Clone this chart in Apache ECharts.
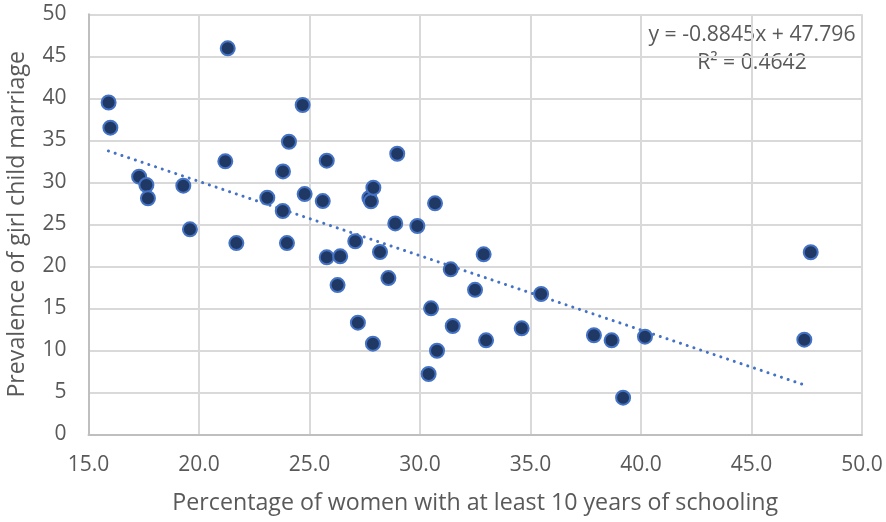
<!DOCTYPE html>
<html>
<head>
<meta charset="utf-8">
<script src="https://cdn.jsdelivr.net/npm/echarts@6/dist/echarts.min.js"></script>
<style>
html,body{margin:0;padding:0;background:#fff;}
#chart{width:886px;height:522px;}
</style>
</head>
<body>
<div id="chart"></div>
<script>
// Data
const schooling = [15.91,15.99,17.29,17.62,17.69,19.29,19.59,21.19,21.30,21.69,
  23.09,23.79,23.80,23.98,24.07,24.69,24.78,25.60,25.78,25.78,
  26.27,26.39,27.07,27.19,27.71,27.78,27.87,27.89,28.19,28.57,
  28.88,28.97,29.88,30.39,30.50,30.68,30.77,31.39,31.48,32.49,
  32.88,32.99,34.60,35.48,37.87,38.67,39.19,40.18,47.39,47.68];
const marriage = [39.5,36.5,30.67,29.68,28.1,29.6,24.4,32.5,45.95,22.77,
  28.17,26.58,31.3,22.77,34.83,39.2,28.6,27.77,32.57,21.07,
  17.77,21.19,22.98,13.29,28.13,27.74,10.79,29.36,21.7,18.6,
  25.1,33.4,24.8,7.18,15.0,27.5,9.95,19.64,12.89,17.2,
  21.43,11.19,12.62,16.7,11.79,11.19,4.36,11.62,11.26,21.67];
const trendSlope = -0.8845;
const trendIntercept = 47.796;
const trendRange = [15.9, 47.5];
const equationText = 'y = -0.8845x + 47.796';
const r2Text = 'R\u00B2 = 0.4642';
const xTicks = [15,20,25,30,35,40,45,50];
const yTicks = [0,5,10,15,20,25,30,35,40,45,50];

const points = schooling.map((x,i)=>[x, marriage[i]]);
const trend = trendRange.map(x=>[x, trendSlope*x + trendIntercept]);

const FONT = '"Open Sans", sans-serif';
const TXT = '#595959';
const chart = echarts.init(document.getElementById('chart'));
chart.setOption({
  animation:false,
  backgroundColor:'#fff',
  grid:{left:88.5, right:24, top:14.3, bottom:87.7, containLabel:false, outerBoundsMode:'none'},
  xAxis:{
    type:'value', min:xTicks[0], max:xTicks[xTicks.length-1], interval:5,
    axisLine:{show:true, lineStyle:{color:'#BFBFBF', width:2}},
    axisTick:{show:false},
    splitLine:{show:true, lineStyle:{color:'#D9D9D9', width:2}},
    axisLabel:{color:TXT, fontSize:21, fontFamily:FONT, margin:20,
      formatter:v=>v.toFixed(1)},
    name:'Percentage of women with at least 10 years of schooling',
    nameLocation:'middle', nameGap:58,
    nameTextStyle:{color:TXT, fontSize:23.2, fontFamily:FONT}
  },
  yAxis:{
    type:'value', min:yTicks[0], max:yTicks[yTicks.length-1], interval:5,
    axisLine:{show:true, lineStyle:{color:'#BFBFBF', width:2}},
    axisTick:{show:false},
    splitLine:{show:true, lineStyle:{color:'#D9D9D9', width:2}},
    axisLabel:{color:TXT, fontSize:21, fontFamily:FONT, margin:22},
    name:'Prevalence of girl child marriage',
    nameLocation:'middle', nameGap:60, nameRotate:90,
    nameTextStyle:{color:TXT, fontSize:23.2, fontFamily:FONT}
  },
  graphic:[
    {type:'text', style:{text:equationText, x:752, y:35, textAlign:'center', textVerticalAlign:'middle', fill:TXT, font:'21.2px "Open Sans", sans-serif'}},
    {type:'text', style:{text:r2Text, x:752, y:63, textAlign:'center', textVerticalAlign:'middle', fill:TXT, font:'21.2px "Open Sans", sans-serif'}}
  ],
  series:[
    {
      type:'line', data:trend, showSymbol:false, symbol:'none', z:3,
      lineStyle:{color:'#4472C4', width:3, type:[0.1,7], cap:'round'}
    },
    {
      type:'scatter', data:points, symbol:'circle', symbolSize:14, z:4,
      itemStyle:{color:'#1F3864', borderColor:'#4472C4', borderWidth:2, opacity:1}
    }
  ]
});
</script>
</body>
</html>
